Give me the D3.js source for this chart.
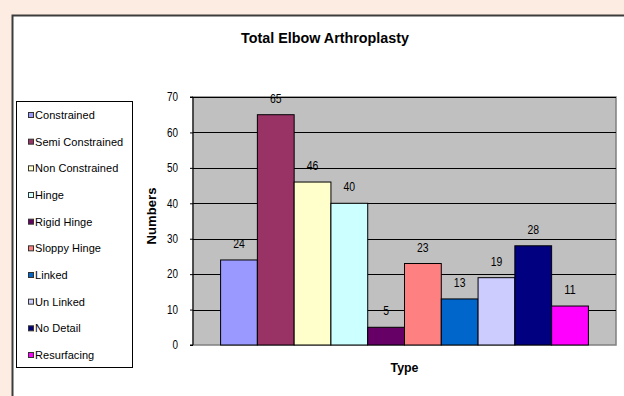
<!DOCTYPE html>
<html><head><meta charset="utf-8">
<script src="https://cdn.jsdelivr.net/npm/d3@7"></script>
<style>html,body{margin:0;padding:0;background:#fdece1;}svg{display:block;}</style>
</head><body>
<svg id="c" width="624" height="396"></svg>
<script>
const categories = ["Constrained","Semi Constrained","Non Constrained","Hinge","Rigid Hinge","Sloppy Hinge","Linked","Un Linked","No Detail","Resurfacing"];
const values = [24,65,46,40,5,23,13,19,28,11];
const colors = ["#9999ff","#993366","#ffffcc","#ccffff","#660066","#ff8080","#0066cc","#ccccff","#000080","#ff00ff"];
const yTicks = [0,10,20,30,40,50,60,70];
const title = "Total Elbow Arthroplasty";
const yTitle = "Numbers";
const xTitle = "Type";

const svg = d3.select("#c");
const font = "Liberation Sans, Arial, sans-serif";

// frame
svg.append("rect").attr("x",12.5).attr("y",15.5).attr("width",640).attr("height",420)
  .attr("fill","#fff").attr("stroke","#3c3c3c").attr("stroke-width",2);

const L=193, R=616, T=97, B=345;
const y = d3.scaleLinear().domain([0,70]).range([B,T]);
const bw = (R-L)/11.5;
const x = d3.scaleBand().domain(categories).range([L+0.75*bw, R-0.75*bw]).padding(0);

svg.append("rect").attr("x",L).attr("y",T).attr("width",R-L).attr("height",B-T)
  .attr("fill","#c0c0c0").attr("stroke","#808080").attr("stroke-width",1.5);

// gridlines
svg.append("g").selectAll("line").data(yTicks.filter(d=>d>0)).join("line")
  .attr("x1",L).attr("x2",R).attr("y1",d=>Math.round(y(d))+0.5).attr("y2",d=>Math.round(y(d))+0.5)
  .attr("stroke","#000").attr("stroke-width",1);

// y axis
const ya = d3.axisLeft(y).tickValues(yTicks).tickSize(3).tickPadding(12).tickFormat(d3.format("d"));
const yg = svg.append("g").attr("transform",`translate(${L},0)`).call(ya);
yg.select(".domain").attr("stroke","#000").attr("d",`M-3,${T}H0V${B}H-3`);
yg.selectAll("text").attr("font-family",font).attr("font-size",12).attr("fill","#000")
  .attr("textLength",d=>String(d).length*5.5).attr("lengthAdjust","spacingAndGlyphs");

// bars
svg.append("g").selectAll("rect").data(categories).join("rect")
  .attr("x",d=>x(d)).attr("width",x.bandwidth())
  .attr("y",(d,i)=>y(values[i])).attr("height",(d,i)=>B-y(values[i]))
  .attr("fill",(d,i)=>colors[i]).attr("stroke","#000").attr("stroke-width",1);

// value labels
svg.append("g").selectAll("text").data(categories).join("text")
  .attr("x",d=>x(d)+x.bandwidth()/2).attr("y",(d,i)=>y(values[i])-12)
  .attr("text-anchor","middle").attr("font-family",font).attr("font-size",12)
  .attr("textLength",(d,i)=>String(values[i]).length*5.8).attr("lengthAdjust","spacingAndGlyphs")
  .text((d,i)=>values[i]);

// title
svg.append("text").attr("x",325).attr("y",43).attr("text-anchor","middle")
  .attr("font-family",font).attr("font-size",14).attr("font-weight","bold")
  .attr("textLength",168).attr("lengthAdjust","spacingAndGlyphs").text(title);

// axis titles
svg.append("text").attr("transform",`translate(156,216) rotate(-90)`).attr("text-anchor","middle")
  .attr("font-family",font).attr("font-size",12).attr("font-weight","bold")
  .attr("textLength",57).attr("lengthAdjust","spacingAndGlyphs").text(yTitle);
svg.append("text").attr("x",(L+R)/2).attr("y",372).attr("text-anchor","middle")
  .attr("font-family",font).attr("font-size",12).attr("font-weight","bold")
  .attr("textLength",28).attr("lengthAdjust","spacingAndGlyphs").text(xTitle);

// legend
const lg = svg.append("g");
lg.append("rect").attr("x",16.5).attr("y",101.5).attr("width",116).attr("height",266)
  .attr("fill","#fff").attr("stroke","#000").attr("stroke-width",1);
const ly = d3.scalePoint().domain(categories).range([115,355]);
const items = lg.selectAll("g").data(categories).join("g")
  .attr("transform",d=>`translate(28,${ly(d)})`);
items.append("rect").attr("x",0.5).attr("y",-2.5).attr("width",5).attr("height",5)
  .attr("fill",(d,i)=>colors[i]).attr("stroke","#333").attr("stroke-width",1);
items.append("text").attr("x",7).attr("y",4).attr("font-family",font).attr("font-size",11)
  .attr("letter-spacing",0.05).text(d=>d);
</script>
</body></html>
